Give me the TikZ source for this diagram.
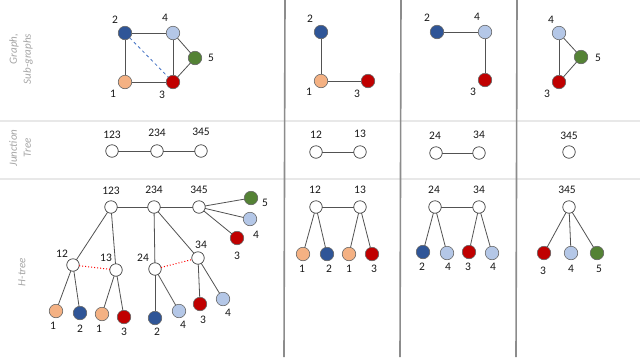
\documentclass[tikz,border=0pt]{standalone}
\usepackage{fontspec}
\setmainfont{Carlito}
\begin{document}
\begin{tikzpicture}[x=1pt,y=-1pt,
  every node/.style={inner sep=0pt,outer sep=0pt},
  vtx/.style={circle,draw=gray!80!black,line width=0.6pt,minimum size=13.5pt},
  wv/.style={circle,draw=black!75,fill=white,line width=0.7pt,minimum size=12.5pt},
  peach/.style={vtx,fill=cPeach},
  dblue/.style={vtx,fill=cDBlue},
  lblue/.style={vtx,fill=cLBlue},
  green/.style={vtx,fill=cGreen},
  red/.style={vtx,fill=cRed},
  lbl/.style={font=\fontsize{11.5}{13}\selectfont,text=black!90},
  side/.style={font=\fontsize{11}{14}\selectfont\itshape,text=black!35,rotate=90},
  edge/.style={draw=black!68,line width=0.8pt},
  hsep/.style={draw=black!9,line width=1.6pt},
  vsep/.style={draw=black!45,line width=1.6pt}]
\definecolor{cPeach}{HTML}{F4B183}
\definecolor{cDBlue}{HTML}{2F5597}
\definecolor{cLBlue}{HTML}{B4C7E7}
\definecolor{cGreen}{HTML}{548235}
\definecolor{cRed}{HTML}{C00000}
\definecolor{cDash}{HTML}{4472C4}
\useasboundingbox[fill=white] (0,0) rectangle (640,357);

% separators
\coordinate (h1a) at (0,121); \coordinate (h1b) at (640,121);
\coordinate (h2a) at (0,179); \coordinate (h2b) at (640,179);
\draw[hsep] (h1a) -- (h1b);
\draw[hsep] (h2a) -- (h2b);
\coordinate (v1a) at (285,0); \coordinate (v1b) at (284,357);
\coordinate (v2a) at (401,0); \coordinate (v2b) at (400,357);
\coordinate (v3a) at (517,0); \coordinate (v3b) at (516,357);
\draw[vsep] (v1a) -- (v1b);
\draw[vsep] (v2a) -- (v2b);
\draw[vsep] (v3a) -- (v3b);

% side labels
\node[side,align=right] (s1) at (21,59) {Graph,\\Sub-graphs};
\node[side,align=center] (s2) at (20,148) {Junction\\Tree};
\node[side] (s3) at (22,272) {H-tree};

% ---------- row 1: graphs ----------
\node[peach] (g1) at (125,82) {};
\node[dblue] (g2) at (125,33) {};
\node[red] (g3) at (173,82) {};
\node[lblue] (g4) at (173,33) {};
\node[green] (g5) at (195,58) {};
\draw[edge] (g1) -- (g2);
\draw[edge] (g1) -- (g3);
\draw[edge] (g2) -- (g4);
\draw[edge] (g4) -- (g3);
\draw[edge] (g4) -- (g5);
\draw[edge] (g5) -- (g3);
\draw[draw=cDash,dashed,line width=0.8pt] (g2) -- (g3);
\node[lbl] (gl1) at (113,94) {1};
\node[lbl] (gl2) at (115,20) {2};
\node[lbl] (gl3) at (162,95) {3};
\node[lbl] (gl4) at (165,18) {4};
\node[lbl] (gl5) at (211,58) {5};

\node[peach] (a1) at (321,81) {};
\node[dblue] (a2) at (321,32) {};
\node[red] (a3) at (368,81) {};
\draw[edge] (a1) -- (a2);
\draw[edge] (a1) -- (a3);
\node[lbl] (al1) at (309,92) {1};
\node[lbl] (al2) at (310,19) {2};
\node[lbl] (al3) at (357,94) {3};

\node[dblue] (b2) at (437,32) {};
\node[lblue] (b4) at (485,32) {};
\node[red] (b3) at (485,80) {};
\draw[edge] (b2) -- (b4);
\draw[edge] (b4) -- (b3);
\node[lbl] (bl2) at (427,18) {2};
\node[lbl] (bl4) at (477,17) {4};
\node[lbl] (bl3) at (473,92) {3};

\node[lblue] (c4) at (559,33) {};
\node[green] (c5) at (581,57) {};
\node[red] (c3) at (559,82) {};
\draw[edge] (c4) -- (c5);
\draw[edge] (c5) -- (c3);
\draw[edge] (c4) -- (c3);
\node[lbl] (cl4) at (551,20) {4};
\node[lbl] (cl5) at (598,58) {5};
\node[lbl] (cl3) at (547,94) {3};

% ---------- row 2: junction trees ----------
\node[wv] (j123) at (112,151) {};
\node[wv] (j234) at (157,151) {};
\node[wv] (j345) at (201,151) {};
\draw[edge] (j123) -- (j234);
\draw[edge] (j234) -- (j345);
\node[lbl] (jl123) at (112,135) {123};
\node[lbl] (jl234) at (157,133) {234};
\node[lbl] (jl345) at (201,132) {345};

\node[wv] (j12) at (316,152) {};
\node[wv] (j13) at (360,152) {};
\draw[edge] (j12) -- (j13);
\node[lbl] (jl12) at (316,135) {12};
\node[lbl] (jl13) at (360,134) {13};

\node[wv] (j24) at (436,153) {};
\node[wv] (j34) at (479,153) {};
\draw[edge] (j24) -- (j34);
\node[lbl] (jl24) at (435,136) {24};
\node[lbl] (jl34) at (479,135) {34};

\node[wv] (jb345) at (569,152) {};
\node[lbl] (jbl345) at (569,136) {345};

% ---------- row 3: H-trees ----------
% panel 1
\node[wv] (h123) at (111,207) {};
\node[wv] (h234) at (154,207) {};
\node[wv] (h345) at (199,207) {};
\node[wv] (h12) at (73,265) {};
\node[wv] (h13) at (116,270) {};
\node[wv] (h24) at (155,269) {};
\node[wv] (h34) at (198,258) {};
\node[green] (x5) at (251,198) {};
\node[lblue] (x4) at (250,219) {};
\node[red] (x3) at (237,238) {};
\node[peach] (y1) at (56,311) {};
\node[dblue] (y2) at (80,313) {};
\node[peach] (y3) at (102,314) {};
\node[red] (y4) at (124,317) {};
\node[dblue] (y5) at (155,318) {};
\node[lblue] (y6) at (179,311) {};
\node[red] (y7) at (200,304) {};
\node[lblue] (y8) at (223,299) {};
\draw[edge] (h123) -- (h234);
\draw[edge] (h234) -- (h345);
\draw[edge] (h345) -- (x5);
\draw[edge] (h345) -- (x4);
\draw[edge] (h345) -- (x3);
\draw[edge] (h123) -- (h12);
\draw[edge] (h123) -- (h13);
\draw[edge] (h234) -- (h24);
\draw[edge] (h234) -- (h34);
\draw[edge] (h12) -- (y1);
\draw[edge] (h12) -- (y2);
\draw[edge] (h13) -- (y3);
\draw[edge] (h13) -- (y4);
\draw[edge] (h24) -- (y5);
\draw[edge] (h24) -- (y6);
\draw[edge] (h34) -- (y7);
\draw[edge] (h34) -- (y8);
\draw[draw=red,dotted,line width=1pt] (h12) -- (h13);
\draw[draw=red,dotted,line width=1pt] (h24) -- (h34);
\node[lbl] (hl123) at (111,191) {123};
\node[lbl] (hl234) at (154,190) {234};
\node[lbl] (hl345) at (199,190) {345};
\node[lbl] (hl12) at (62,254) {12};
\node[lbl] (hl13) at (106,258) {13};
\node[lbl] (hl24) at (143,258) {24};
\node[lbl] (hl34) at (201,245) {34};
\node[lbl] (xl5) at (265,203) {5};
\node[lbl] (xl4) at (256,235) {4};
\node[lbl] (xl3) at (237,256) {3};
\node[lbl] (yl1) at (53,326) {1};
\node[lbl] (yl2) at (80,329) {2};
\node[lbl] (yl3) at (99,329) {1};
\node[lbl] (yl4) at (124,332) {3};
\node[lbl] (yl5) at (157,332) {2};
\node[lbl] (yl6) at (183,325) {4};
\node[lbl] (yl7) at (203,320) {3};
\node[lbl] (yl8) at (228,313) {4};

% panel 2
\node[wv] (p12) at (316,207) {};
\node[wv] (p13) at (360,207) {};
\node[peach] (p1) at (303,254) {};
\node[dblue] (p2) at (327,254) {};
\node[peach] (p3) at (349,254) {};
\node[red] (p4) at (372,254) {};
\draw[edge] (p12) -- (p13);
\draw[edge] (p12) -- (p1);
\draw[edge] (p12) -- (p2);
\draw[edge] (p13) -- (p3);
\draw[edge] (p13) -- (p4);
\node[lbl] (pl12) at (315,190) {12};
\node[lbl] (pl13) at (360,190) {13};
\node[lbl] (pl1) at (302,269) {1};
\node[lbl] (pl2) at (329,269) {2};
\node[lbl] (pl3) at (349,269) {1};
\node[lbl] (pl4) at (374,269) {3};

% panel 3
\node[wv] (q24) at (435,207) {};
\node[wv] (q34) at (479,207) {};
\node[dblue] (q1) at (423,252) {};
\node[lblue] (q2) at (447,253) {};
\node[red] (q3) at (469,252) {};
\node[lblue] (q4) at (492,253) {};
\draw[edge] (q24) -- (q34);
\draw[edge] (q24) -- (q1);
\draw[edge] (q24) -- (q2);
\draw[edge] (q34) -- (q3);
\draw[edge] (q34) -- (q4);
\node[lbl] (ql24) at (434,190) {24};
\node[lbl] (ql34) at (479,190) {34};
\node[lbl] (ql1) at (422,267) {2};
\node[lbl] (ql2) at (448,267) {4};
\node[lbl] (ql3) at (468,267) {3};
\node[lbl] (ql4) at (493,267) {4};

% panel 4
\node[wv] (r345) at (569,207) {};
\node[red] (r3) at (544,253) {};
\node[lblue] (r4) at (571,253) {};
\node[green] (r5) at (597,253) {};
\draw[edge] (r345) -- (r3);
\draw[edge] (r345) -- (r4);
\draw[edge] (r345) -- (r5);
\node[lbl] (rl345) at (567,190) {345};
\node[lbl] (rl3) at (543,271) {3};
\node[lbl] (rl4) at (571,269) {4};
\node[lbl] (rl5) at (599,269) {5};
\end{tikzpicture}
\end{document}
